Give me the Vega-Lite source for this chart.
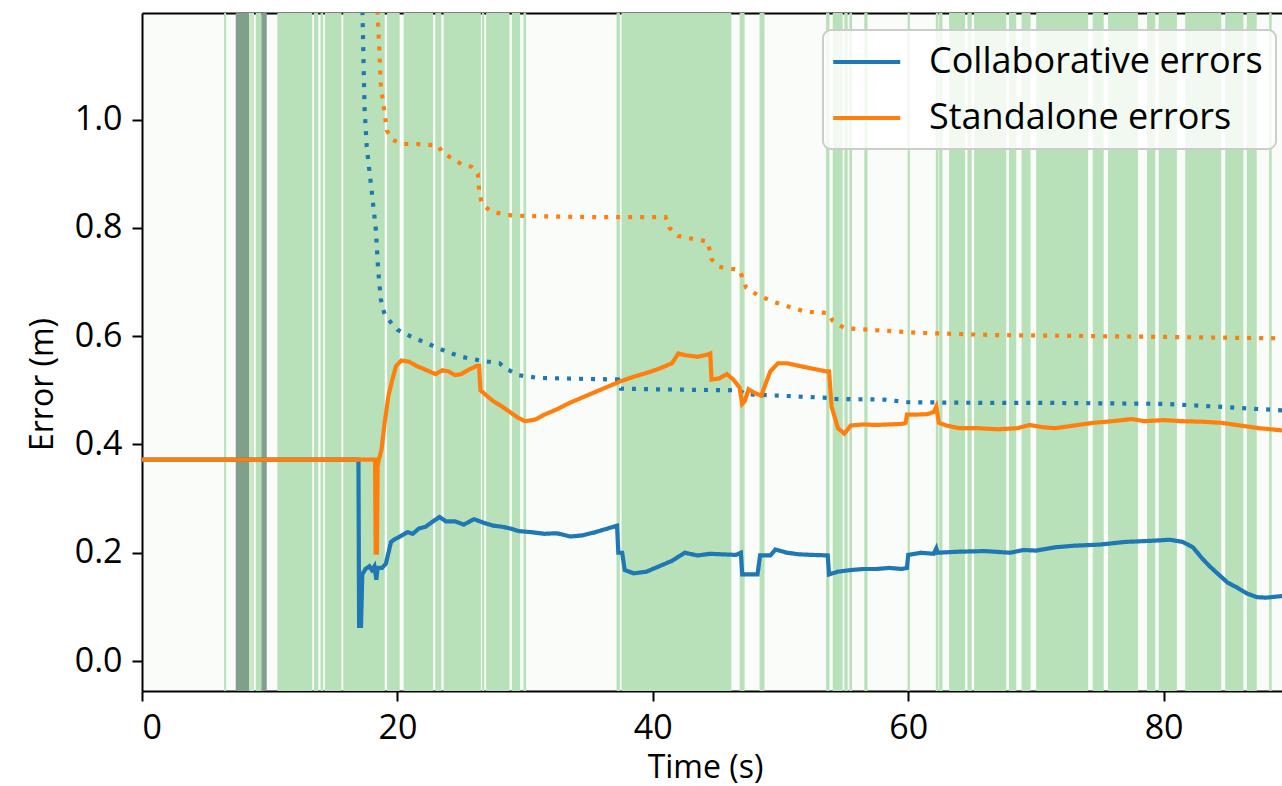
{
  "$schema": "https://vega.github.io/schema/vega-lite/v6.json",
  "width": 1140,
  "height": 678,
  "autosize": {"type": "none"},
  "padding": {"left": 142, "top": 13, "right": 0, "bottom": 95},
  "background": "white",
  "config": {
    "view": {"stroke": null, "fill": "#f9fcf9"},
    "font": "Open Sans",
    "axis": {
      "labelFont": "Open Sans", "titleFont": "Open Sans",
      "labelFontSize": 34, "titleFontSize": 32,
      "labelColor": "black", "titleColor": "black",
      "domainColor": "black", "tickColor": "black",
      "domainWidth": 2, "tickWidth": 2, "tickSize": 10,
      "labelPadding": 10, "grid": false, "titleFontWeight": "normal"
    },
    "legend": {
      "orient": "none", "legendX": 681, "legendY": 17,
      "labelFont": "Open Sans", "labelFontSize": 36, "labelColor": "black",
      "symbolType": "M-1.3,0H2.7", "symbolStrokeWidth": 4, "symbolSize": 1122,
      "labelOffset": 55, "padding": 13, "rowPadding": 19,
      "fillColor": "rgba(255,255,255,0.8)", "strokeColor": "#cccccc",
      "cornerRadius": 8, "strokeWidth": 2, "labelLimit": 600
    }
  },
  "datasets": {
    "bands": [
      {"start": 6.43, "end": 6.59, "kind": "green"},
      {"start": 7.34, "end": 8.38, "kind": "dark"},
      {"start": 8.38, "end": 8.77, "kind": "light"},
      {"start": 8.91, "end": 9.35, "kind": "green"},
      {"start": 9.35, "end": 9.77, "kind": "dark"},
      {"start": 10.60, "end": 13.33, "kind": "green"},
      {"start": 13.46, "end": 13.80, "kind": "green"},
      {"start": 13.98, "end": 14.19, "kind": "green"},
      {"start": 14.32, "end": 15.62, "kind": "green"},
      {"start": 15.76, "end": 19.01, "kind": "green"},
      {"start": 19.19, "end": 20.18, "kind": "green"},
      {"start": 20.49, "end": 22.79, "kind": "green"},
      {"start": 22.97, "end": 23.44, "kind": "green"},
      {"start": 23.62, "end": 26.54, "kind": "green"},
      {"start": 26.62, "end": 26.80, "kind": "green"},
      {"start": 26.95, "end": 28.78, "kind": "green"},
      {"start": 28.96, "end": 29.61, "kind": "green"},
      {"start": 29.87, "end": 30.08, "kind": "green"},
      {"start": 37.16, "end": 37.42, "kind": "green"},
      {"start": 37.55, "end": 46.15, "kind": "green"},
      {"start": 46.80, "end": 47.19, "kind": "green"},
      {"start": 48.36, "end": 48.75, "kind": "green"},
      {"start": 53.57, "end": 53.83, "kind": "green"},
      {"start": 54.09, "end": 54.87, "kind": "green"},
      {"start": 55.00, "end": 55.26, "kind": "green"},
      {"start": 55.39, "end": 55.60, "kind": "green"},
      {"start": 56.56, "end": 56.82, "kind": "green"},
      {"start": 59.95, "end": 60.13, "kind": "green"},
      {"start": 62.16, "end": 62.37, "kind": "green"},
      {"start": 62.42, "end": 62.68, "kind": "green"},
      {"start": 63.20, "end": 64.45, "kind": "green"},
      {"start": 64.64, "end": 64.97, "kind": "green"},
      {"start": 65.16, "end": 67.68, "kind": "green"},
      {"start": 67.89, "end": 68.46, "kind": "green"},
      {"start": 68.88, "end": 69.58, "kind": "green"},
      {"start": 70.02, "end": 74.09, "kind": "green"},
      {"start": 74.45, "end": 75.31, "kind": "green"},
      {"start": 75.65, "end": 77.99, "kind": "green"},
      {"start": 78.70, "end": 79.35, "kind": "green"},
      {"start": 79.61, "end": 81.04, "kind": "green"},
      {"start": 81.69, "end": 84.51, "kind": "green"},
      {"start": 84.82, "end": 86.25, "kind": "green"},
      {"start": 86.51, "end": 87.29, "kind": "green"},
      {"start": 88.26, "end": 88.46, "kind": "green"}
    ],
    "lines": [
      {"t": 0, "v": 0.372, "series": "Collaborative errors", "kind": "solid"},
      {"t": 16.95, "v": 0.372, "series": "Collaborative errors", "kind": "solid"},
      {"t": 17.0, "v": 0.065, "series": "Collaborative errors", "kind": "solid"},
      {"t": 17.15, "v": 0.065, "series": "Collaborative errors", "kind": "solid"},
      {"t": 17.25, "v": 0.16, "series": "Collaborative errors", "kind": "solid"},
      {"t": 17.5, "v": 0.17, "series": "Collaborative errors", "kind": "solid"},
      {"t": 17.8, "v": 0.175, "series": "Collaborative errors", "kind": "solid"},
      {"t": 18.0, "v": 0.168, "series": "Collaborative errors", "kind": "solid"},
      {"t": 18.2, "v": 0.175, "series": "Collaborative errors", "kind": "solid"},
      {"t": 18.35, "v": 0.15, "series": "Collaborative errors", "kind": "solid"},
      {"t": 18.45, "v": 0.172, "series": "Collaborative errors", "kind": "solid"},
      {"t": 18.8, "v": 0.172, "series": "Collaborative errors", "kind": "solid"},
      {"t": 19.1, "v": 0.18, "series": "Collaborative errors", "kind": "solid"},
      {"t": 19.5, "v": 0.22, "series": "Collaborative errors", "kind": "solid"},
      {"t": 19.8, "v": 0.225, "series": "Collaborative errors", "kind": "solid"},
      {"t": 20.2, "v": 0.23, "series": "Collaborative errors", "kind": "solid"},
      {"t": 20.8, "v": 0.238, "series": "Collaborative errors", "kind": "solid"},
      {"t": 21.2, "v": 0.235, "series": "Collaborative errors", "kind": "solid"},
      {"t": 21.7, "v": 0.245, "series": "Collaborative errors", "kind": "solid"},
      {"t": 22.2, "v": 0.248, "series": "Collaborative errors", "kind": "solid"},
      {"t": 22.8, "v": 0.258, "series": "Collaborative errors", "kind": "solid"},
      {"t": 23.3, "v": 0.266, "series": "Collaborative errors", "kind": "solid"},
      {"t": 23.8, "v": 0.258, "series": "Collaborative errors", "kind": "solid"},
      {"t": 24.5, "v": 0.258, "series": "Collaborative errors", "kind": "solid"},
      {"t": 25.2, "v": 0.252, "series": "Collaborative errors", "kind": "solid"},
      {"t": 26.0, "v": 0.262, "series": "Collaborative errors", "kind": "solid"},
      {"t": 26.8, "v": 0.255, "series": "Collaborative errors", "kind": "solid"},
      {"t": 27.5, "v": 0.25, "series": "Collaborative errors", "kind": "solid"},
      {"t": 28.2, "v": 0.248, "series": "Collaborative errors", "kind": "solid"},
      {"t": 28.8, "v": 0.245, "series": "Collaborative errors", "kind": "solid"},
      {"t": 29.5, "v": 0.24, "series": "Collaborative errors", "kind": "solid"},
      {"t": 30.5, "v": 0.238, "series": "Collaborative errors", "kind": "solid"},
      {"t": 31.5, "v": 0.235, "series": "Collaborative errors", "kind": "solid"},
      {"t": 32.5, "v": 0.236, "series": "Collaborative errors", "kind": "solid"},
      {"t": 33.5, "v": 0.23, "series": "Collaborative errors", "kind": "solid"},
      {"t": 34.5, "v": 0.232, "series": "Collaborative errors", "kind": "solid"},
      {"t": 35.5, "v": 0.238, "series": "Collaborative errors", "kind": "solid"},
      {"t": 36.5, "v": 0.245, "series": "Collaborative errors", "kind": "solid"},
      {"t": 37.2, "v": 0.25, "series": "Collaborative errors", "kind": "solid"},
      {"t": 37.3, "v": 0.2, "series": "Collaborative errors", "kind": "solid"},
      {"t": 37.6, "v": 0.2, "series": "Collaborative errors", "kind": "solid"},
      {"t": 37.8, "v": 0.168, "series": "Collaborative errors", "kind": "solid"},
      {"t": 38.5, "v": 0.162, "series": "Collaborative errors", "kind": "solid"},
      {"t": 39.5, "v": 0.165, "series": "Collaborative errors", "kind": "solid"},
      {"t": 40.5, "v": 0.175, "series": "Collaborative errors", "kind": "solid"},
      {"t": 41.5, "v": 0.185, "series": "Collaborative errors", "kind": "solid"},
      {"t": 42.5, "v": 0.2, "series": "Collaborative errors", "kind": "solid"},
      {"t": 43.5, "v": 0.195, "series": "Collaborative errors", "kind": "solid"},
      {"t": 44.5, "v": 0.198, "series": "Collaborative errors", "kind": "solid"},
      {"t": 45.5, "v": 0.197, "series": "Collaborative errors", "kind": "solid"},
      {"t": 46.5, "v": 0.196, "series": "Collaborative errors", "kind": "solid"},
      {"t": 46.9, "v": 0.2, "series": "Collaborative errors", "kind": "solid"},
      {"t": 47.0, "v": 0.16, "series": "Collaborative errors", "kind": "solid"},
      {"t": 48.2, "v": 0.16, "series": "Collaborative errors", "kind": "solid"},
      {"t": 48.4, "v": 0.195, "series": "Collaborative errors", "kind": "solid"},
      {"t": 49.2, "v": 0.195, "series": "Collaborative errors", "kind": "solid"},
      {"t": 49.6, "v": 0.206, "series": "Collaborative errors", "kind": "solid"},
      {"t": 50.5, "v": 0.2, "series": "Collaborative errors", "kind": "solid"},
      {"t": 51.5, "v": 0.197, "series": "Collaborative errors", "kind": "solid"},
      {"t": 52.5, "v": 0.196, "series": "Collaborative errors", "kind": "solid"},
      {"t": 53.7, "v": 0.195, "series": "Collaborative errors", "kind": "solid"},
      {"t": 53.8, "v": 0.16, "series": "Collaborative errors", "kind": "solid"},
      {"t": 54.5, "v": 0.165, "series": "Collaborative errors", "kind": "solid"},
      {"t": 55.5, "v": 0.168, "series": "Collaborative errors", "kind": "solid"},
      {"t": 56.5, "v": 0.17, "series": "Collaborative errors", "kind": "solid"},
      {"t": 57.5, "v": 0.17, "series": "Collaborative errors", "kind": "solid"},
      {"t": 58.5, "v": 0.172, "series": "Collaborative errors", "kind": "solid"},
      {"t": 59.5, "v": 0.17, "series": "Collaborative errors", "kind": "solid"},
      {"t": 59.9, "v": 0.172, "series": "Collaborative errors", "kind": "solid"},
      {"t": 60.0, "v": 0.196, "series": "Collaborative errors", "kind": "solid"},
      {"t": 61.0, "v": 0.2, "series": "Collaborative errors", "kind": "solid"},
      {"t": 62.0, "v": 0.198, "series": "Collaborative errors", "kind": "solid"},
      {"t": 62.2, "v": 0.208, "series": "Collaborative errors", "kind": "solid"},
      {"t": 62.3, "v": 0.2, "series": "Collaborative errors", "kind": "solid"},
      {"t": 64.0, "v": 0.202, "series": "Collaborative errors", "kind": "solid"},
      {"t": 66.0, "v": 0.203, "series": "Collaborative errors", "kind": "solid"},
      {"t": 68.0, "v": 0.2, "series": "Collaborative errors", "kind": "solid"},
      {"t": 69.0, "v": 0.205, "series": "Collaborative errors", "kind": "solid"},
      {"t": 70.0, "v": 0.204, "series": "Collaborative errors", "kind": "solid"},
      {"t": 71.5, "v": 0.21, "series": "Collaborative errors", "kind": "solid"},
      {"t": 73.0, "v": 0.213, "series": "Collaborative errors", "kind": "solid"},
      {"t": 75.0, "v": 0.215, "series": "Collaborative errors", "kind": "solid"},
      {"t": 77.0, "v": 0.22, "series": "Collaborative errors", "kind": "solid"},
      {"t": 79.0, "v": 0.222, "series": "Collaborative errors", "kind": "solid"},
      {"t": 80.5, "v": 0.224, "series": "Collaborative errors", "kind": "solid"},
      {"t": 81.5, "v": 0.22, "series": "Collaborative errors", "kind": "solid"},
      {"t": 82.3, "v": 0.21, "series": "Collaborative errors", "kind": "solid"},
      {"t": 83.0, "v": 0.19, "series": "Collaborative errors", "kind": "solid"},
      {"t": 83.6, "v": 0.175, "series": "Collaborative errors", "kind": "solid"},
      {"t": 84.3, "v": 0.16, "series": "Collaborative errors", "kind": "solid"},
      {"t": 85.0, "v": 0.145, "series": "Collaborative errors", "kind": "solid"},
      {"t": 85.8, "v": 0.135, "series": "Collaborative errors", "kind": "solid"},
      {"t": 86.5, "v": 0.125, "series": "Collaborative errors", "kind": "solid"},
      {"t": 87.3, "v": 0.118, "series": "Collaborative errors", "kind": "solid"},
      {"t": 88.0, "v": 0.117, "series": "Collaborative errors", "kind": "solid"},
      {"t": 89.3, "v": 0.12, "series": "Collaborative errors", "kind": "solid"},

      {"t": 17.2, "v": 1.4, "series": "Collaborative errors", "kind": "dotted"},
      {"t": 17.27, "v": 1.195, "series": "Collaborative errors", "kind": "dotted"},
      {"t": 17.35, "v": 1.105, "series": "Collaborative errors", "kind": "dotted"},
      {"t": 17.43, "v": 1.02, "series": "Collaborative errors", "kind": "dotted"},
      {"t": 17.6, "v": 0.95, "series": "Collaborative errors", "kind": "dotted"},
      {"t": 17.9, "v": 0.886, "series": "Collaborative errors", "kind": "dotted"},
      {"t": 18.0, "v": 0.865, "series": "Collaborative errors", "kind": "dotted"},
      {"t": 18.3, "v": 0.8, "series": "Collaborative errors", "kind": "dotted"},
      {"t": 18.5, "v": 0.72, "series": "Collaborative errors", "kind": "dotted"},
      {"t": 18.7, "v": 0.668, "series": "Collaborative errors", "kind": "dotted"},
      {"t": 19.0, "v": 0.64, "series": "Collaborative errors", "kind": "dotted"},
      {"t": 19.5, "v": 0.625, "series": "Collaborative errors", "kind": "dotted"},
      {"t": 20.0, "v": 0.612, "series": "Collaborative errors", "kind": "dotted"},
      {"t": 21.0, "v": 0.6, "series": "Collaborative errors", "kind": "dotted"},
      {"t": 22.0, "v": 0.59, "series": "Collaborative errors", "kind": "dotted"},
      {"t": 23.0, "v": 0.58, "series": "Collaborative errors", "kind": "dotted"},
      {"t": 24.0, "v": 0.57, "series": "Collaborative errors", "kind": "dotted"},
      {"t": 25.0, "v": 0.562, "series": "Collaborative errors", "kind": "dotted"},
      {"t": 26.5, "v": 0.555, "series": "Collaborative errors", "kind": "dotted"},
      {"t": 28.0, "v": 0.55, "series": "Collaborative errors", "kind": "dotted"},
      {"t": 28.5, "v": 0.54, "series": "Collaborative errors", "kind": "dotted"},
      {"t": 29.5, "v": 0.528, "series": "Collaborative errors", "kind": "dotted"},
      {"t": 31.0, "v": 0.523, "series": "Collaborative errors", "kind": "dotted"},
      {"t": 33.0, "v": 0.522, "series": "Collaborative errors", "kind": "dotted"},
      {"t": 35.0, "v": 0.521, "series": "Collaborative errors", "kind": "dotted"},
      {"t": 37.3, "v": 0.52, "series": "Collaborative errors", "kind": "dotted"},
      {"t": 37.5, "v": 0.503, "series": "Collaborative errors", "kind": "dotted"},
      {"t": 40.0, "v": 0.502, "series": "Collaborative errors", "kind": "dotted"},
      {"t": 43.0, "v": 0.501, "series": "Collaborative errors", "kind": "dotted"},
      {"t": 46.8, "v": 0.5, "series": "Collaborative errors", "kind": "dotted"},
      {"t": 47.2, "v": 0.493, "series": "Collaborative errors", "kind": "dotted"},
      {"t": 50.0, "v": 0.49, "series": "Collaborative errors", "kind": "dotted"},
      {"t": 53.8, "v": 0.486, "series": "Collaborative errors", "kind": "dotted"},
      {"t": 54.0, "v": 0.484, "series": "Collaborative errors", "kind": "dotted"},
      {"t": 58.0, "v": 0.483, "series": "Collaborative errors", "kind": "dotted"},
      {"t": 60.0, "v": 0.478, "series": "Collaborative errors", "kind": "dotted"},
      {"t": 65.0, "v": 0.477, "series": "Collaborative errors", "kind": "dotted"},
      {"t": 70.0, "v": 0.477, "series": "Collaborative errors", "kind": "dotted"},
      {"t": 75.0, "v": 0.476, "series": "Collaborative errors", "kind": "dotted"},
      {"t": 80.0, "v": 0.475, "series": "Collaborative errors", "kind": "dotted"},
      {"t": 82.5, "v": 0.472, "series": "Collaborative errors", "kind": "dotted"},
      {"t": 85.0, "v": 0.469, "series": "Collaborative errors", "kind": "dotted"},
      {"t": 87.0, "v": 0.466, "series": "Collaborative errors", "kind": "dotted"},
      {"t": 89.3, "v": 0.463, "series": "Collaborative errors", "kind": "dotted"},

      {"t": 0, "v": 0.372, "series": "Standalone errors", "kind": "solid"},
      {"t": 18.25, "v": 0.372, "series": "Standalone errors", "kind": "solid"},
      {"t": 18.3, "v": 0.2, "series": "Standalone errors", "kind": "solid"},
      {"t": 18.4, "v": 0.2, "series": "Standalone errors", "kind": "solid"},
      {"t": 18.45, "v": 0.36, "series": "Standalone errors", "kind": "solid"},
      {"t": 18.55, "v": 0.372, "series": "Standalone errors", "kind": "solid"},
      {"t": 18.75, "v": 0.39, "series": "Standalone errors", "kind": "solid"},
      {"t": 19.0, "v": 0.44, "series": "Standalone errors", "kind": "solid"},
      {"t": 19.3, "v": 0.49, "series": "Standalone errors", "kind": "solid"},
      {"t": 19.6, "v": 0.52, "series": "Standalone errors", "kind": "solid"},
      {"t": 19.9, "v": 0.545, "series": "Standalone errors", "kind": "solid"},
      {"t": 20.3, "v": 0.555, "series": "Standalone errors", "kind": "solid"},
      {"t": 20.9, "v": 0.553, "series": "Standalone errors", "kind": "solid"},
      {"t": 21.5, "v": 0.545, "series": "Standalone errors", "kind": "solid"},
      {"t": 22.0, "v": 0.54, "series": "Standalone errors", "kind": "solid"},
      {"t": 22.5, "v": 0.535, "series": "Standalone errors", "kind": "solid"},
      {"t": 23.0, "v": 0.53, "series": "Standalone errors", "kind": "solid"},
      {"t": 23.5, "v": 0.537, "series": "Standalone errors", "kind": "solid"},
      {"t": 24.0, "v": 0.535, "series": "Standalone errors", "kind": "solid"},
      {"t": 24.5, "v": 0.528, "series": "Standalone errors", "kind": "solid"},
      {"t": 25.0, "v": 0.53, "series": "Standalone errors", "kind": "solid"},
      {"t": 25.5, "v": 0.537, "series": "Standalone errors", "kind": "solid"},
      {"t": 26.2, "v": 0.545, "series": "Standalone errors", "kind": "solid"},
      {"t": 26.4, "v": 0.545, "series": "Standalone errors", "kind": "solid"},
      {"t": 26.5, "v": 0.5, "series": "Standalone errors", "kind": "solid"},
      {"t": 27.0, "v": 0.49, "series": "Standalone errors", "kind": "solid"},
      {"t": 27.5, "v": 0.48, "series": "Standalone errors", "kind": "solid"},
      {"t": 28.2, "v": 0.47, "series": "Standalone errors", "kind": "solid"},
      {"t": 28.8, "v": 0.46, "series": "Standalone errors", "kind": "solid"},
      {"t": 29.4, "v": 0.45, "series": "Standalone errors", "kind": "solid"},
      {"t": 30.0, "v": 0.443, "series": "Standalone errors", "kind": "solid"},
      {"t": 30.8, "v": 0.446, "series": "Standalone errors", "kind": "solid"},
      {"t": 31.5, "v": 0.455, "series": "Standalone errors", "kind": "solid"},
      {"t": 32.5, "v": 0.465, "series": "Standalone errors", "kind": "solid"},
      {"t": 33.5, "v": 0.477, "series": "Standalone errors", "kind": "solid"},
      {"t": 34.5, "v": 0.487, "series": "Standalone errors", "kind": "solid"},
      {"t": 35.5, "v": 0.497, "series": "Standalone errors", "kind": "solid"},
      {"t": 36.5, "v": 0.507, "series": "Standalone errors", "kind": "solid"},
      {"t": 37.5, "v": 0.517, "series": "Standalone errors", "kind": "solid"},
      {"t": 38.5, "v": 0.525, "series": "Standalone errors", "kind": "solid"},
      {"t": 39.5, "v": 0.532, "series": "Standalone errors", "kind": "solid"},
      {"t": 40.5, "v": 0.54, "series": "Standalone errors", "kind": "solid"},
      {"t": 41.5, "v": 0.55, "series": "Standalone errors", "kind": "solid"},
      {"t": 42.0, "v": 0.568, "series": "Standalone errors", "kind": "solid"},
      {"t": 42.5, "v": 0.565, "series": "Standalone errors", "kind": "solid"},
      {"t": 43.5, "v": 0.562, "series": "Standalone errors", "kind": "solid"},
      {"t": 44.3, "v": 0.566, "series": "Standalone errors", "kind": "solid"},
      {"t": 44.5, "v": 0.568, "series": "Standalone errors", "kind": "solid"},
      {"t": 44.6, "v": 0.52, "series": "Standalone errors", "kind": "solid"},
      {"t": 45.2, "v": 0.522, "series": "Standalone errors", "kind": "solid"},
      {"t": 45.8, "v": 0.53, "series": "Standalone errors", "kind": "solid"},
      {"t": 46.3, "v": 0.52, "series": "Standalone errors", "kind": "solid"},
      {"t": 46.8, "v": 0.505, "series": "Standalone errors", "kind": "solid"},
      {"t": 47.0, "v": 0.475, "series": "Standalone errors", "kind": "solid"},
      {"t": 47.2, "v": 0.48, "series": "Standalone errors", "kind": "solid"},
      {"t": 47.5, "v": 0.502, "series": "Standalone errors", "kind": "solid"},
      {"t": 48.0, "v": 0.495, "series": "Standalone errors", "kind": "solid"},
      {"t": 48.5, "v": 0.49, "series": "Standalone errors", "kind": "solid"},
      {"t": 48.8, "v": 0.51, "series": "Standalone errors", "kind": "solid"},
      {"t": 49.2, "v": 0.535, "series": "Standalone errors", "kind": "solid"},
      {"t": 49.8, "v": 0.55, "series": "Standalone errors", "kind": "solid"},
      {"t": 50.5, "v": 0.55, "series": "Standalone errors", "kind": "solid"},
      {"t": 51.5, "v": 0.545, "series": "Standalone errors", "kind": "solid"},
      {"t": 52.5, "v": 0.54, "series": "Standalone errors", "kind": "solid"},
      {"t": 53.6, "v": 0.535, "series": "Standalone errors", "kind": "solid"},
      {"t": 53.8, "v": 0.535, "series": "Standalone errors", "kind": "solid"},
      {"t": 54.0, "v": 0.47, "series": "Standalone errors", "kind": "solid"},
      {"t": 54.5, "v": 0.43, "series": "Standalone errors", "kind": "solid"},
      {"t": 55.0, "v": 0.42, "series": "Standalone errors", "kind": "solid"},
      {"t": 55.5, "v": 0.435, "series": "Standalone errors", "kind": "solid"},
      {"t": 56.5, "v": 0.437, "series": "Standalone errors", "kind": "solid"},
      {"t": 57.5, "v": 0.436, "series": "Standalone errors", "kind": "solid"},
      {"t": 58.5, "v": 0.437, "series": "Standalone errors", "kind": "solid"},
      {"t": 59.5, "v": 0.438, "series": "Standalone errors", "kind": "solid"},
      {"t": 59.8, "v": 0.44, "series": "Standalone errors", "kind": "solid"},
      {"t": 59.9, "v": 0.455, "series": "Standalone errors", "kind": "solid"},
      {"t": 60.5, "v": 0.455, "series": "Standalone errors", "kind": "solid"},
      {"t": 61.5, "v": 0.456, "series": "Standalone errors", "kind": "solid"},
      {"t": 62.0, "v": 0.46, "series": "Standalone errors", "kind": "solid"},
      {"t": 62.2, "v": 0.47, "series": "Standalone errors", "kind": "solid"},
      {"t": 62.4, "v": 0.44, "series": "Standalone errors", "kind": "solid"},
      {"t": 63.0, "v": 0.435, "series": "Standalone errors", "kind": "solid"},
      {"t": 64.0, "v": 0.43, "series": "Standalone errors", "kind": "solid"},
      {"t": 65.5, "v": 0.43, "series": "Standalone errors", "kind": "solid"},
      {"t": 67.0, "v": 0.428, "series": "Standalone errors", "kind": "solid"},
      {"t": 68.5, "v": 0.43, "series": "Standalone errors", "kind": "solid"},
      {"t": 69.5, "v": 0.436, "series": "Standalone errors", "kind": "solid"},
      {"t": 70.5, "v": 0.432, "series": "Standalone errors", "kind": "solid"},
      {"t": 71.5, "v": 0.43, "series": "Standalone errors", "kind": "solid"},
      {"t": 73.0, "v": 0.435, "series": "Standalone errors", "kind": "solid"},
      {"t": 74.5, "v": 0.44, "series": "Standalone errors", "kind": "solid"},
      {"t": 76.0, "v": 0.443, "series": "Standalone errors", "kind": "solid"},
      {"t": 77.5, "v": 0.447, "series": "Standalone errors", "kind": "solid"},
      {"t": 78.5, "v": 0.443, "series": "Standalone errors", "kind": "solid"},
      {"t": 80.0, "v": 0.445, "series": "Standalone errors", "kind": "solid"},
      {"t": 81.5, "v": 0.443, "series": "Standalone errors", "kind": "solid"},
      {"t": 83.0, "v": 0.442, "series": "Standalone errors", "kind": "solid"},
      {"t": 84.5, "v": 0.44, "series": "Standalone errors", "kind": "solid"},
      {"t": 86.0, "v": 0.435, "series": "Standalone errors", "kind": "solid"},
      {"t": 87.5, "v": 0.43, "series": "Standalone errors", "kind": "solid"},
      {"t": 89.3, "v": 0.426, "series": "Standalone errors", "kind": "solid"},

      {"t": 18.3, "v": 1.8, "series": "Standalone errors", "kind": "dotted"},
      {"t": 18.45, "v": 1.195, "series": "Standalone errors", "kind": "dotted"},
      {"t": 18.58, "v": 1.13, "series": "Standalone errors", "kind": "dotted"},
      {"t": 18.7, "v": 1.065, "series": "Standalone errors", "kind": "dotted"},
      {"t": 18.92, "v": 1.025, "series": "Standalone errors", "kind": "dotted"},
      {"t": 19.18, "v": 0.98, "series": "Standalone errors", "kind": "dotted"},
      {"t": 19.6, "v": 0.963, "series": "Standalone errors", "kind": "dotted"},
      {"t": 20.36, "v": 0.955, "series": "Standalone errors", "kind": "dotted"},
      {"t": 21.5, "v": 0.955, "series": "Standalone errors", "kind": "dotted"},
      {"t": 23.2, "v": 0.952, "series": "Standalone errors", "kind": "dotted"},
      {"t": 23.5, "v": 0.94, "series": "Standalone errors", "kind": "dotted"},
      {"t": 24.3, "v": 0.928, "series": "Standalone errors", "kind": "dotted"},
      {"t": 25.0, "v": 0.918, "series": "Standalone errors", "kind": "dotted"},
      {"t": 25.8, "v": 0.913, "series": "Standalone errors", "kind": "dotted"},
      {"t": 26.3, "v": 0.9, "series": "Standalone errors", "kind": "dotted"},
      {"t": 26.4, "v": 0.87, "series": "Standalone errors", "kind": "dotted"},
      {"t": 26.6, "v": 0.845, "series": "Standalone errors", "kind": "dotted"},
      {"t": 27.3, "v": 0.831, "series": "Standalone errors", "kind": "dotted"},
      {"t": 28.5, "v": 0.824, "series": "Standalone errors", "kind": "dotted"},
      {"t": 30.0, "v": 0.822, "series": "Standalone errors", "kind": "dotted"},
      {"t": 35.0, "v": 0.82, "series": "Standalone errors", "kind": "dotted"},
      {"t": 41.0, "v": 0.82, "series": "Standalone errors", "kind": "dotted"},
      {"t": 41.3, "v": 0.8, "series": "Standalone errors", "kind": "dotted"},
      {"t": 42.0, "v": 0.785, "series": "Standalone errors", "kind": "dotted"},
      {"t": 43.5, "v": 0.778, "series": "Standalone errors", "kind": "dotted"},
      {"t": 44.3, "v": 0.775, "series": "Standalone errors", "kind": "dotted"},
      {"t": 44.6, "v": 0.742, "series": "Standalone errors", "kind": "dotted"},
      {"t": 45.2, "v": 0.728, "series": "Standalone errors", "kind": "dotted"},
      {"t": 46.8, "v": 0.722, "series": "Standalone errors", "kind": "dotted"},
      {"t": 47.3, "v": 0.69, "series": "Standalone errors", "kind": "dotted"},
      {"t": 48.2, "v": 0.676, "series": "Standalone errors", "kind": "dotted"},
      {"t": 49.5, "v": 0.663, "series": "Standalone errors", "kind": "dotted"},
      {"t": 51.0, "v": 0.652, "series": "Standalone errors", "kind": "dotted"},
      {"t": 52.0, "v": 0.645, "series": "Standalone errors", "kind": "dotted"},
      {"t": 53.7, "v": 0.643, "series": "Standalone errors", "kind": "dotted"},
      {"t": 54.1, "v": 0.628, "series": "Standalone errors", "kind": "dotted"},
      {"t": 55.0, "v": 0.615, "series": "Standalone errors", "kind": "dotted"},
      {"t": 57.5, "v": 0.611, "series": "Standalone errors", "kind": "dotted"},
      {"t": 61.0, "v": 0.606, "series": "Standalone errors", "kind": "dotted"},
      {"t": 67.0, "v": 0.602, "series": "Standalone errors", "kind": "dotted"},
      {"t": 75.0, "v": 0.6, "series": "Standalone errors", "kind": "dotted"},
      {"t": 89.3, "v": 0.596, "series": "Standalone errors", "kind": "dotted"}
    ]
  },
  "layer": [
    {
      "data": {"name": "bands"},
      "mark": {"type": "rect"},
      "encoding": {
        "x": {
          "field": "start", "type": "quantitative",
          "scale": {"domain": [0, 89.27], "nice": false, "zero": false},
          "axis": {"orient": "bottom", "values": [0, 20, 40, 60, 80], "title": "Time (s)",
                   "titleX": 563, "titleY": 86, "titleBaseline": "alphabetic", "titleAlign": "center"}
        },
        "x2": {"field": "end"},
        "color": {
          "field": "kind", "type": "nominal",
          "scale": {"domain": ["green", "light", "dark"], "range": ["#b9e1b9", "#c9e8c9", "#80a08c"]},
          "legend": null
        }
      }
    },
    {
      "data": {"name": "lines"},
      "mark": {"type": "line", "clip": true, "strokeWidth": 4.2},
      "encoding": {
        "x": {
          "field": "t", "type": "quantitative",
          "scale": {"domain": [0, 89.27], "nice": false, "zero": false},
          "axis": {"orient": "top", "labels": false, "ticks": false, "title": null}
        },
        "y": {
          "field": "v", "type": "quantitative",
          "scale": {"domain": [-0.0554, 1.197], "nice": false, "zero": false},
          "axis": {"values": [0, 0.2, 0.4, 0.6, 0.8, 1.0], "format": ".1f", "title": "Error (m)",
                   "titleX": -90, "titleY": 371, "titleBaseline": "alphabetic", "titleAlign": "center", "titleAngle": -90}
        },
        "color": {
          "field": "series", "type": "nominal",
          "scale": {"domain": ["Collaborative errors", "Standalone errors"], "range": ["#1f77b4", "#ff7f0e"]},
          "legend": {"title": null}
        },
        "strokeDash": {
          "field": "kind", "type": "nominal",
          "scale": {"domain": ["solid", "dotted"], "range": [[1, 0], [4, 8]]},
          "legend": null
        }
      }
    }
  ],
  "resolve": {"scale": {"color": "independent"}, "axis": {"x": "independent"}}
}
